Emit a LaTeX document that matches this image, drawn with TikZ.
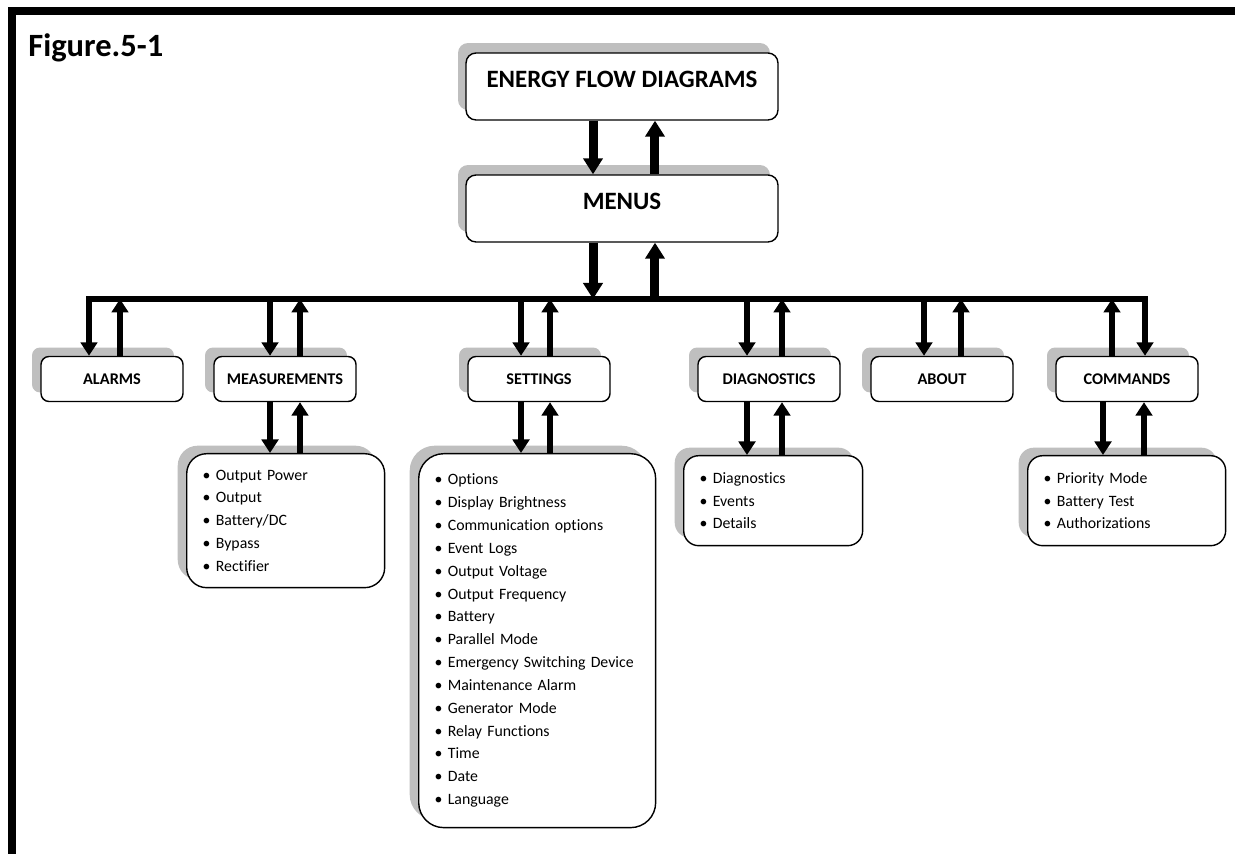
\documentclass[tikz,border=0pt]{standalone}
\usepackage{fontspec}
\setmainfont{Carlito}[Ligatures=NoCommon]
\usetikzlibrary{arrows.meta,shadows}

\begin{document}
\begin{tikzpicture}[x=0.02cm, y=-0.02cm,
    topbox/.style={draw, fill=white, line width=0.8pt, rounded corners=0.2cm,
                   minimum width=6.24cm, inner ysep=0pt, text height=0.70cm, text depth=0.64cm,
                   font=\fontsize{14.2}{16}\selectfont\bfseries,
                   drop shadow={shadow xshift=-0.16cm, shadow yshift=0.2cm, fill=black!25, opacity=1}},
    menubox/.style={draw, fill=white, line width=0.8pt, rounded corners=0.16cm,
                    minimum width=2.84cm, minimum height=0.9cm,
                    font=\fontsize{9.3}{11}\selectfont\bfseries,
                    drop shadow={shadow xshift=-0.18cm, shadow yshift=0.18cm, fill=black!25, opacity=1}},
    listbox/.style={draw, fill=white, line width=0.8pt, anchor=north west, align=left,
                    inner xsep=0.32cm, font=\fontsize{9}{13}\selectfont,
                    drop shadow={shadow xshift=-0.18cm, shadow yshift=0.16cm, fill=black!25, opacity=1}},
    bigflow/.style={line width=0.18cm, -{Triangle[width=0.38cm, length=0.32cm]}},
    flow/.style={line width=0.13cm, -{Triangle[width=0.33cm, length=0.27cm]}},
    bus/.style={line width=0.12cm, line cap=rect}
  ]
  \useasboundingbox (0,0) rectangle (1235,854);

  % frame and caption
  \draw[line width=0.16cm] (12,854) -- (12,11) -- (1235,11);
  \node[anchor=base west, inner sep=0pt, font=\fontsize{18.5}{20}\selectfont\bfseries] (caption) at (28,57) {Figure.5-1};

  % top level
  \node[topbox] (efd) at (622,86.5) {ENERGY FLOW DIAGRAMS};
  \node[topbox] (menus) at (622,208.5) {MENUS};

  % menu entries
  \node[menubox] (alarms)   at (112,379)  {ALARMS};
  \node[menubox] (meas)     at (285,379)  {MEASUREMENTS};
  \node[menubox] (settings) at (539,379)  {SETTINGS};
  \node[menubox] (diag)     at (769,379)  {DIAGNOSTICS};
  \node[menubox] (about)    at (942,379)  {ABOUT};
  \node[menubox] (commands) at (1127,379) {COMMANDS};

  % sub menus
  \node[listbox, rounded corners=0.4cm, text width=3.32cm, minimum height=2.68cm] (measList) at (186,453)
    {\textbullet\ Output Power\\ \textbullet\ Output\\ \textbullet\ Battery/DC\\ \textbullet\ Bypass\\ \textbullet\ Rectifier};
  \node[listbox, rounded corners=0.5cm, text width=4.10cm, minimum height=7.48cm] (setList) at (418,453)
    {\textbullet\ Options\\ \textbullet\ Display Brightness\\ \textbullet\ Communication options\\
     \textbullet\ Event Logs\\ \textbullet\ Output Voltage\\ \textbullet\ Output Frequency\\
     \textbullet\ Battery\\ \textbullet\ Parallel Mode\\ \textbullet\ Emergency Switching Device\\
     \textbullet\ Maintenance Alarm\\ \textbullet\ Generator Mode\\ \textbullet\ Relay Functions\\
     \textbullet\ Time\\ \textbullet\ Date\\ \textbullet\ Language};
  \node[listbox, rounded corners=0.3cm, text width=2.94cm, minimum height=1.8cm] (diagList) at (683,455)
    {\textbullet\ Diagnostics\\ \textbullet\ Events\\ \textbullet\ Details};
  \node[listbox, rounded corners=0.3cm, text width=3.32cm, minimum height=1.8cm] (cmdList) at (1027,455)
    {\textbullet\ Priority Mode\\ \textbullet\ Battery Test\\ \textbullet\ Authorizations};

  % bus
  \coordinate (busL) at (89,299);
  \coordinate (busR) at (1145,299);
  \coordinate (bus) at (622,299);

  % top arrows
  \draw[bigflow] ([xshift=-0.58cm]efd.south) -- ([xshift=-0.58cm]menus.north);
  \draw[bigflow] ([xshift=0.66cm]menus.north) -- ([xshift=0.66cm]efd.south);
  \draw[bigflow] ([xshift=-0.58cm]menus.south) -- ([xshift=-0.58cm]menus.south |- bus);
  \draw[bigflow] ([xshift=0.66cm]menus.south |- bus) -- ([xshift=0.66cm]menus.south);

  % bus to entries
  \draw[flow] (busL) -- (busL |- alarms.north);
  \draw[flow] ([xshift=0.16cm]alarms.north) -- ([xshift=0.16cm]alarms.north |- bus);
  \draw[flow] ([xshift=-0.30cm]meas.north |- bus) -- ([xshift=-0.30cm]meas.north);
  \draw[flow] ([xshift=0.30cm]meas.north) -- ([xshift=0.30cm]meas.north |- bus);
  \draw[flow] ([xshift=-0.36cm]settings.north |- bus) -- ([xshift=-0.36cm]settings.north);
  \draw[flow] ([xshift=0.22cm]settings.north) -- ([xshift=0.22cm]settings.north |- bus);
  \draw[flow] ([xshift=-0.44cm]diag.north |- bus) -- ([xshift=-0.44cm]diag.north);
  \draw[flow] ([xshift=0.26cm]diag.north) -- ([xshift=0.26cm]diag.north |- bus);
  \draw[flow] ([xshift=-0.36cm]about.north |- bus) -- ([xshift=-0.36cm]about.north);
  \draw[flow] ([xshift=0.38cm]about.north) -- ([xshift=0.38cm]about.north |- bus);
  \draw[flow] ([xshift=-0.30cm]commands.north) -- ([xshift=-0.30cm]commands.north |- bus);
  \draw[flow] (busR) -- (busR |- commands.north);

  % entries to sub menus
  \draw[flow] ([xshift=-0.30cm]meas.south) -- ([xshift=-0.30cm]meas.south |- measList.north);
  \draw[flow] ([xshift=0.30cm]meas.south |- measList.north) -- ([xshift=0.30cm]meas.south);
  \draw[flow] ([xshift=-0.36cm]settings.south) -- ([xshift=-0.36cm]settings.south |- setList.north);
  \draw[flow] ([xshift=0.22cm]settings.south |- setList.north) -- ([xshift=0.22cm]settings.south);
  \draw[flow] ([xshift=-0.44cm]diag.south) -- ([xshift=-0.44cm]diag.south |- diagList.north);
  \draw[flow] ([xshift=0.26cm]diag.south |- diagList.north) -- ([xshift=0.26cm]diag.south);
  \draw[flow] ([xshift=-0.48cm]commands.south) -- ([xshift=-0.48cm]commands.south |- cmdList.north);
  \draw[flow] ([xshift=0.34cm]commands.south |- cmdList.north) -- ([xshift=0.34cm]commands.south);

  \draw[bus] (busL) -- (busR);
\end{tikzpicture}
\end{document}
